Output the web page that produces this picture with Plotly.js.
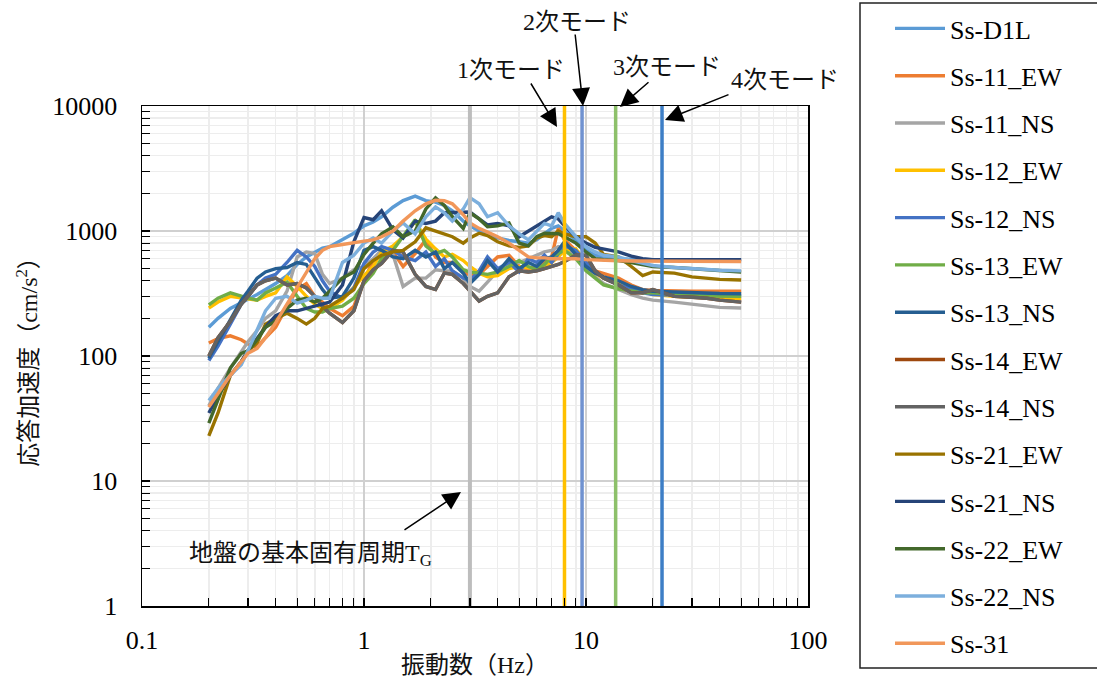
<!DOCTYPE html>
<html><head><meta charset="utf-8">
<script src="https://cdn.plot.ly/plotly-3.0.1.min.js"></script>
<style>html,body{margin:0;padding:0;background:#fff;} #chart{width:1097px;height:684px;}</style>
</head><body><div id="chart"></div>
<script>
// Frequency grid (Hz)
const freq = [0.2,0.22,0.25,0.28,0.3,0.33,0.36,0.4,0.45,0.5,0.55,0.6,0.65,0.7,0.8,0.9,1.0,1.1,1.2,1.35,1.5,1.7,1.9,2.1,2.3,2.5,2.8,3.0,3.3,3.6,4.0,4.5,5.0,5.5,6.0,6.5,7.0,7.5,8.0,9.0,10,11,12,14,16,18,20,25,30,35,40,50];

// Response acceleration (cm/s2)
const ssD1L  = [170,200,240,270,285, 310,340,380,440,540, 620,680,730,750,850, 960,1100,1180,1300,1550, 1750,1900,1750,1700,1600, 1450,1200,1100,1000,930, 880,840,820,800,850, 950,1050,1100,1000,850, 700,640,620,600,595, 590,590,590,590,590, 590,590];
const ss11EW = [127,138,145,135,125, 118,140,170,250,340, 380,300,270,240,210, 250,400,585,700,680, 520,660,850,620,560, 560,480,440,450,520, 620,640,520,500,520, 560,620,1050,850,700, 540,480,460,420,370, 340,335,330,330,330, 330,330];
const ss11NS = [40,55,80,110,130, 160,200,230,330,620, 680,660,450,380,420, 490,520,600,700,650, 360,420,420,490,480, 480,420,360,330,390, 480,540,560,600,640, 680,700,750,720,640, 520,430,380,340,310, 290,280,270,260,250, 245,242];
const ss12EW = [242,270,300,290,285, 280,300,320,430,360, 300,260,240,240,280, 360,440,520,680,760, 900,1200,860,720,620, 650,580,520,460,430, 440,500,520,510,500, 530,560,620,700,720, 560,460,420,380,350, 330,310,300,295,292, 290,290];
const ss12NS = [92,120,180,260,300, 370,420,450,560,700, 620,520,400,330,290, 350,550,680,750,700, 620,580,680,520,600, 480,420,400,480,620, 500,560,470,600,560, 640,560,650,760,700, 560,480,420,370,340, 320,310,305,305,305, 305,305];
const ss13EW = [256,290,320,300,290, 280,320,350,390,300, 240,225,225,240,250, 290,380,460,600,700, 900,1230,760,660,700, 620,490,470,460,450, 470,520,580,520,490, 540,620,660,700,600, 480,420,370,345,330, 320,320,310,305,302, 300,300];
const ss13NS = [96,130,200,280,330, 420,470,500,510,560, 540,420,340,290,300, 420,700,750,700,620, 600,700,620,680,500, 560,460,380,450,580, 470,600,500,560,520, 600,620,700,820,650, 520,460,430,400,360, 340,330,325,320,318, 316,315];
const ss14EW = [100,140,190,260,300, 370,400,420,370,380, 350,300,250,220,185, 230,400,490,550,700, 680,450,360,340,460, 450,380,330,275,300, 320,430,480,470,480, 500,520,540,570,640, 640,480,420,370,320, 320,340,300,295,290, 280,270];
const ss14NS = [100,140,190,260,300, 370,400,420,370,380, 350,300,250,220,185, 230,400,490,550,700, 680,450,360,340,460, 450,380,330,275,300, 320,430,480,470,480, 500,520,540,570,640, 640,480,420,370,320, 320,340,300,295,290, 280,270];
const ss21EW = [23,35,70,90,110, 127,180,200,220,200, 180,200,240,250,290, 340,500,580,640,680, 700,820,1060,1000,950, 900,800,880,960,920, 820,760,740,760,880, 920,900,1000,950,900, 900,800,650,620,520, 440,470,460,430,420, 410,405];
const ss21NS = [35,48,70,90,110, 140,170,210,230,230, 240,250,260,270,370, 820,1280,1230,1450,1020, 880,1200,1150,1200,1400, 1400,1420,1420,1250,1120, 1150,1100,900,1000,1100, 1200,1300,1250,1100,900, 800,740,720,680,630, 600,590,590,590,590, 590,590];
const ss22EW = [29,45,80,105,110, 135,170,190,240,280, 290,270,290,330,420, 470,650,800,950,1080, 900,1000,1500,1840,1600, 1300,1050,1400,1250,1080, 1100,1160,800,760,900, 960,960,950,900,800, 680,600,590,580,560, 540,520,510,500,490, 480,470];
const ss22NS = [44,55,70,85,110, 160,230,290,300,265, 280,300,290,290,560, 640,800,880,800,1000, 1160,950,1300,1560,1400, 1200,1500,1850,1650,1300, 1400,1100,950,850,1000, 1150,1100,1400,1150,900, 750,680,640,620,580, 550,530,510,500,490, 485,480];
const ss31   = [39,50,70,90,105, 115,140,185,260,350, 470,600,700,750,780, 800,830,850,900,1000, 1200,1450,1650,1760,1750, 1650,1350,1160,1050,980, 900,800,700,620,610, 610,600,600,600,600, 590,585,580,578,575, 575,575,572,570,570, 570,570];

const seriesNames = ['Ss-D1L','Ss-11_EW','Ss-11_NS','Ss-12_EW','Ss-12_NS','Ss-13_EW','Ss-13_NS','Ss-14_EW','Ss-14_NS','Ss-21_EW','Ss-21_NS','Ss-22_EW','Ss-22_NS','Ss-31'];
const seriesValues = [ssD1L,ss11EW,ss11NS,ss12EW,ss12NS,ss13EW,ss13NS,ss14EW,ss14NS,ss21EW,ss21NS,ss22EW,ss22NS,ss31];
const seriesColors = ['#5B9BD5','#ED7D31','#A5A5A5','#FFC000','#4472C4','#70AD47','#255E91','#9E480E','#636363','#997300','#264478','#43682B','#7CAFDD','#F1975A'];

// Reference frequencies (Hz)
const groundFreq = 3.0;
const modeFreqs = [8.0, 9.6, 13.6, 22.0];
const modeColors = ['#FFC000','#7092D0','#8DC06A','#3D7EC6'];
const yLimits = [1, 10000];

const xTickVals = [0.1,1,10,100];
const xTickText = ['0.1','1','10','100'];
const yTickVals = [1,10,100,1000,10000];
const yTickText = ['1','10','100','1000','10000'];

function minorVals(d0, d1){ const v=[]; for(let d=d0; d<d1; d++){ for(let m=2;m<=9;m++){ v.push(m*Math.pow(10,d)); } } return v; }

const serif = '"Liberation Serif", "Times New Roman", "Noto Sans CJK JP", serif';

const traces = seriesNames.map((n,i)=>({
  type:'scatter', mode:'lines', name:n, x:freq, y:seriesValues[i],
  line:{color:seriesColors[i], width:3.4}, legendgroup:n
}));
traces.push({type:'scatter', mode:'lines', x:[groundFreq,groundFreq], y:yLimits, line:{color:'#BDBDBD', width:4}, showlegend:false, hoverinfo:'skip'});
modeFreqs.forEach((f,i)=>traces.push({type:'scatter', mode:'lines', x:[f,f], y:yLimits, line:{color:modeColors[i], width:3.5}, showlegend:false, hoverinfo:'skip'}));

const W=1097, H=684;
const L=142, R=808, T=106, B=606;
const px = v => (v-L)/(R-L);
const py = v => (B-v)/(B-T);

function arrow(tx,ty,hx,hy){
  return {xref:'paper', yref:'paper', x:px(hx), y:py(hy), ax:tx-hx, ay:ty-hy, axref:'pixel', ayref:'pixel',
    text:'', showarrow:true, arrowhead:2, arrowsize:2.4, arrowwidth:1.5, arrowcolor:'#000', standoff:0, startstandoff:0};
}
function label(t,cx,cy){
  return {xref:'paper', yref:'paper', x:px(cx), y:py(cy), xanchor:'center', yanchor:'middle', text:t, showarrow:false,
    font:{family:serif, size:24, color:'#111'}};
}

const layout = {
  width:W, height:H,
  margin:{l:L, r:W-R, t:T, b:H-B, autoexpand:false},
  paper_bgcolor:'#fff', plot_bgcolor:'#fff',
  showlegend:true,
  legend:{xref:'container', yref:'container', x:890/W, y:1-5/H, xanchor:'left', yanchor:'top', maxheight:1,
    font:{family:serif, size:26, color:'#000'},
    bgcolor:'rgba(0,0,0,0)', borderwidth:0, traceorder:'grouped', tracegroupgap:10.5, itemwidth:50},
  xaxis:{type:'log', range:[-1,2], automargin:false, tickvals:xTickVals, ticktext:xTickText, ticks:'inside', ticklen:8, tickwidth:1.5, tickcolor:'#000',
    showline:true, linecolor:'#000', linewidth:1.5, mirror:true, showgrid:true, gridcolor:'#D0D0D0', gridwidth:1.5, zeroline:false,
    tickfont:{family:serif, size:26, color:'#000'}, ticklabelstandoff:10,
    minor:{tickvals:minorVals(-1,2), ticks:'inside', ticklen:8, tickwidth:1.2, tickcolor:'#000', showgrid:true, gridcolor:'#EDEDED', gridwidth:1.5},
    title:{text:'振動数（Hz）', font:{family:serif, size:24, color:'#111'}, standoff:2}},
  yaxis:{type:'log', range:[0,4], automargin:false, tickvals:yTickVals, ticktext:yTickText, ticks:'inside', ticklen:8, tickwidth:1.5, tickcolor:'#000',
    showline:true, linecolor:'#000', linewidth:1.5, mirror:true, showgrid:true, gridcolor:'#D0D0D0', gridwidth:1.5, zeroline:false,
    tickfont:{family:serif, size:26, color:'#000'}, ticklabelstandoff:18,
    minor:{tickvals:minorVals(0,4), ticks:'inside', ticklen:8, tickwidth:1.2, tickcolor:'#000', showgrid:true, gridcolor:'#EDEDED', gridwidth:1.5},
    title:{text:'応答加速度（cm/s<sup>2</sup>）', font:{family:serif, size:24, color:'#111'}, standoff:8}},
  shapes:[{type:'rect', xref:'paper', yref:'paper', x0:px(860), x1:px(1110), y0:py(668), y1:py(3), line:{color:'#222', width:1.5}, fillcolor:'rgba(0,0,0,0)', layer:'above'}],
  annotations:[
    label('1次モード', 511, 70), arrow(530,82,557,127),
    label('2次モード', 577, 22), arrow(575,33,583,106),
    label('3次モード', 667, 67), arrow(650,81,620,107),
    label('4次モード', 785, 80), arrow(730,94,665,120),
    label('地盤の基本固有周期T<sub>G</sub>', 310, 555), arrow(403,531,461,492)
  ]
};

Plotly.newPlot('chart', traces, layout, {displayModeBar:false, staticPlot:true});
</script>
</body></html>
